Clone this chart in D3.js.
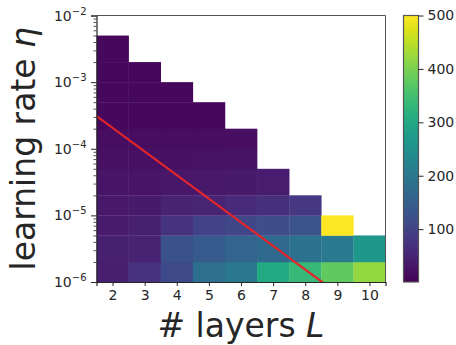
<!DOCTYPE html>
<html>
<head>
<meta charset="utf-8">
<script src="https://cdn.jsdelivr.net/npm/d3@7"></script>
<style>
  html, body { margin: 0; padding: 0; background: #fff; }
  svg { display: block; font-family: "DejaVu Sans", sans-serif; }
</style>
</head>
<body>
<svg id="chart" width="456" height="345"></svg>
<script>
// ---- data ----
const layers = [2, 3, 4, 5, 6, 7, 8, 9, 10];
const lrEdges = [1e-6, 2e-6, 5e-6, 1e-5, 2e-5, 5e-5, 1e-4, 2e-4, 5e-4, 1e-3, 2e-3, 5e-3];
// values per layer, from the lowest learning-rate cell upwards
const valuesL2  = [42, 44, 38, 33, 28, 22, 17, 12, 11, 11, 11];
const valuesL3  = [72, 48, 44, 35, 28, 22, 17, 12, 11, 11];
const valuesL4  = [112, 125, 74, 48, 31, 22, 17, 12, 11];
const valuesL5  = [180, 140, 100, 50, 33, 24, 18, 12];
const valuesL6  = [200, 160, 106, 60, 36, 26, 19];
const valuesL7  = [305, 170, 118, 70, 40];
const valuesL8  = [335, 188, 128, 80];
const valuesL9  = [378, 205, 500];
const valuesL10 = [420, 265];
const values = [valuesL2, valuesL3, valuesL4, valuesL5, valuesL6, valuesL7, valuesL8, valuesL9, valuesL10];
const yMajorTicks = [1e-6, 1e-5, 1e-4, 1e-3, 1e-2];
const yTickExps = ["−6", "−5", "−4", "−3", "−2"];
const colorTicks = [100, 200, 300, 400, 500];
const colorDomain = [1, 500];
const lineLayers = [1.5, 10.5];
const lineEta = [3.1e-4, 2.0e-7];

// ---- layout ----
const svg = d3.select("#chart");
const pLeft = 96.5, pRight = 385.5, pTop = 15.5, pBottom = 282;
const ink = "#262626";

const x = d3.scaleLinear().domain([1.5, 10.5]).range([pLeft, pRight]);
const y = d3.scaleLog().domain([1e-6, 1e-2]).range([pBottom, pTop]);
const color = d3.scaleSequential(d3.interpolateViridis).domain(colorDomain);

// cells
const cells = [];
layers.forEach((L, i) => {
  values[i].forEach((v, r) => {
    cells.push({L, lo: lrEdges[r], hi: lrEdges[r + 1], v});
  });
});
svg.append("g").selectAll("rect").data(cells).join("rect")
  .attr("x", d => x(d.L - 0.5))
  .attr("width", d => x(d.L + 0.5) - x(d.L - 0.5) + 0.3)
  .attr("y", d => y(d.hi))
  .attr("height", d => y(d.lo) - y(d.hi) + 0.3)
  .attr("fill", d => color(d.v));

// red line, clipped
svg.append("clipPath").attr("id", "clip").append("rect")
  .attr("x", pLeft).attr("y", pTop).attr("width", pRight - pLeft).attr("height", pBottom - pTop);
const lineData = lineLayers.map((L, i) => [L, lineEta[i]]);
svg.append("path").datum(lineData)
  .attr("clip-path", "url(#clip)")
  .attr("d", d3.line().x(d => x(d[0])).y(d => y(d[1])))
  .attr("fill", "none").attr("stroke", "#e5252a").attr("stroke-width", 2.2);

// spines
svg.append("line").attr("x1", pLeft).attr("x2", pRight).attr("y1", pTop).attr("y2", pTop).attr("stroke", "#555").attr("stroke-width", 1);
svg.append("line").attr("x1", pRight).attr("x2", pRight).attr("y1", pTop).attr("y2", pBottom).attr("stroke", "#555").attr("stroke-width", 1);

// x axis
const xAxis = svg.append("g").attr("transform", `translate(0,${pBottom})`)
  .call(d3.axisBottom(x).tickValues(layers).tickSize(4).tickPadding(4).tickFormat(d3.format("d")));
xAxis.select(".domain").attr("stroke", ink).attr("stroke-width", 1.2);
xAxis.selectAll(".tick line").attr("stroke", ink).attr("stroke-width", 1);
xAxis.selectAll("text").attr("fill", ink).style("font-size", "14px").style("font-family", "DejaVu Sans");

// y axis minor ticks
const minor = [];
for (let e = -6; e < -2; e++) for (let k = 2; k <= 9; k++) minor.push(k * Math.pow(10, e));
const yMinor = svg.append("g").attr("transform", `translate(${pLeft},0)`)
  .call(d3.axisLeft(y).tickValues(minor).tickSize(3).tickFormat(""));
yMinor.select(".domain").remove();
yMinor.selectAll(".tick line").attr("stroke", ink).attr("stroke-width", 0.8);

const yAxis = svg.append("g").attr("transform", `translate(${pLeft},0)`)
  .call(d3.axisLeft(y).tickValues(yMajorTicks).tickSize(5.5).tickFormat(""));
yAxis.select(".domain").attr("stroke", ink).attr("stroke-width", 1.2);
yAxis.selectAll(".tick line").attr("stroke", ink).attr("stroke-width", 1);

// y tick labels 10^e
const ylab = svg.append("g");
yMajorTicks.forEach((t, i) => {
  const txt = ylab.append("text")
    .attr("x", pLeft - 10).attr("y", y(t) + 5)
    .attr("text-anchor", "end").attr("fill", ink)
    .style("font-size", "14px");
  txt.append("tspan").text("10");
  txt.append("tspan").attr("dy", -6).style("font-size", "10px").text(yTickExps[i]);
});

// axis titles
svg.append("text")
  .attr("x", (pLeft + pRight) / 2).attr("y", 337)
  .attr("text-anchor", "middle").attr("fill", ink)
  .style("font-size", "33px")
  .html('# layers <tspan font-style="italic">L</tspan>');
svg.append("text")
  .attr("transform", `translate(35,${(pTop + pBottom) / 2}) rotate(-90)`)
  .attr("text-anchor", "middle").attr("fill", ink)
  .style("font-size", "33px")
  .html('learning rate <tspan font-style="italic">η</tspan>');

// colorbar
const cbLeft = 403.5, cbWidth = 15;
const cbY = d3.scaleLinear().domain(colorDomain).range([pBottom, pTop]);
const defs = svg.append("defs");
const grad = defs.append("linearGradient").attr("id", "cbgrad")
  .attr("x1", 0).attr("y1", 1).attr("x2", 0).attr("y2", 0);
d3.range(0, 1.0001, 0.05).forEach(t => {
  grad.append("stop").attr("offset", t).attr("stop-color", d3.interpolateViridis(t));
});
svg.append("rect").attr("x", cbLeft).attr("y", pTop).attr("width", cbWidth).attr("height", pBottom - pTop)
  .attr("fill", "url(#cbgrad)").attr("stroke", "#555").attr("stroke-width", 1.2);
const cbAxis = svg.append("g").attr("transform", `translate(${cbLeft + cbWidth},0)`)
  .call(d3.axisRight(cbY).tickValues(colorTicks).tickSize(5).tickPadding(4));
cbAxis.select(".domain").remove();
cbAxis.selectAll(".tick line").attr("stroke", ink).attr("stroke-width", 1);
cbAxis.selectAll("text").attr("fill", ink).style("font-size", "14px").style("font-family", "DejaVu Sans");
</script>
</body>
</html>
